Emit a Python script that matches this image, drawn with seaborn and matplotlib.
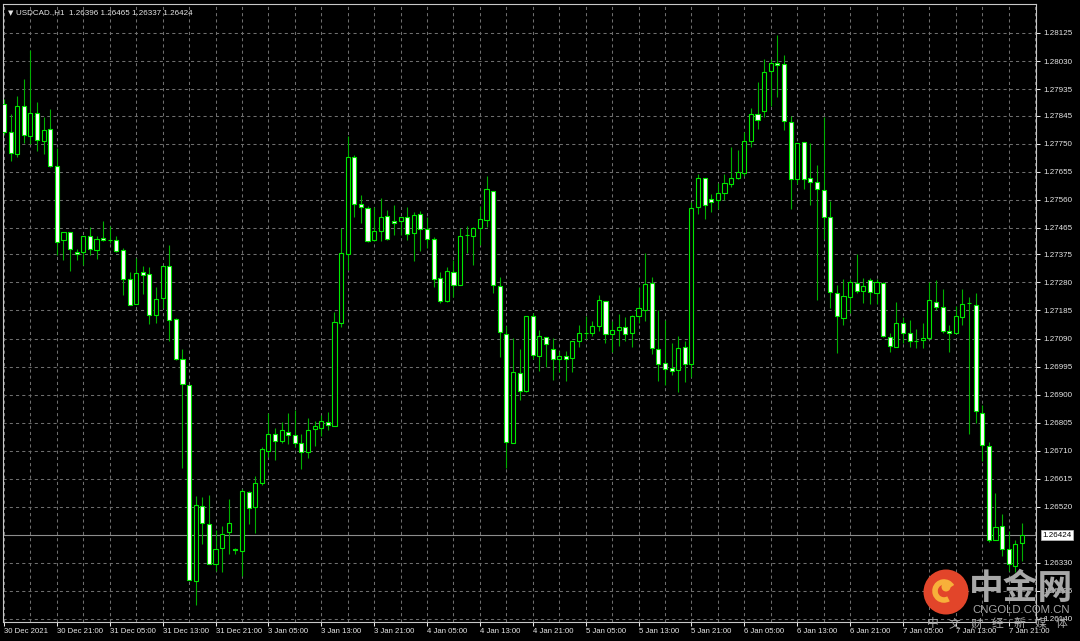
import matplotlib
matplotlib.use('Agg')
import matplotlib.pyplot as plt
import matplotlib.transforms as mtransforms
from matplotlib.patches import Circle, Arc
import numpy as np
import pandas as pd
import seaborn as sns

# --- hourly USDCAD candles, 30 Dec 2021 13:00 .. 7 Jan 2022 23:00 ---
opens = [
    1.27884, 1.27788, 1.27715, 1.27877, 1.27775, 1.27855, 1.27758, 1.27801, 1.27673, 1.27424,
    1.27452, 1.27384, 1.27382, 1.27436, 1.27390, 1.27430, 1.27424, 1.27424, 1.27391, 1.27290,
    1.27206, 1.27314, 1.27307, 1.27171, 1.27228, 1.27335, 1.27156, 1.27022, 1.26931, 1.26268,
    1.26524, 1.26461, 1.26326, 1.26381, 1.26434, 1.26378, 1.26369, 1.26569, 1.26519, 1.26602,
    1.26710, 1.26766, 1.26744, 1.26773, 1.26762, 1.26737, 1.26707, 1.26783, 1.26788, 1.26808,
    1.26795, 1.27142, 1.27376, 1.27706, 1.27545, 1.27533, 1.27424, 1.27454, 1.27505, 1.27489,
    1.27489, 1.27503, 1.27446, 1.27511, 1.27460, 1.27426, 1.27294, 1.27217, 1.27314, 1.27271,
    1.27441, 1.27439, 1.27464, 1.27492, 1.27590, 1.27268, 1.27106, 1.26735, 1.26972, 1.26911,
    1.27168, 1.27030, 1.27095, 1.27055, 1.27020, 1.27030, 1.27024, 1.27081, 1.27109, 1.27108,
    1.27134, 1.27218, 1.27106, 1.27118, 1.27129, 1.27108, 1.27166, 1.27187, 1.27279, 1.27055,
    1.27006, 1.26989, 1.26982, 1.27061, 1.27004, 1.27535, 1.27634, 1.27563, 1.27560, 1.27584,
    1.27614, 1.27635, 1.27652, 1.27760, 1.27850, 1.27862, 1.27996, 1.28024, 1.28020, 1.27823,
    1.27631, 1.27757, 1.27635, 1.27620, 1.27592, 1.27503, 1.27244, 1.27158, 1.27231, 1.27277,
    1.27252, 1.27288, 1.27244, 1.27277, 1.27096, 1.27062, 1.27143, 1.27110, 1.27083, 1.27086,
    1.27092, 1.27215, 1.27198, 1.27114, 1.27110, 1.27162, 1.27209, 1.27205, 1.26839, 1.26725,
    1.26408, 1.26456, 1.26378, 1.26320, 1.26396,
]
highs = [
    1.27901, 1.27852, 1.27912, 1.27969, 1.28069, 1.27892, 1.27842, 1.27868, 1.27736, 1.27451,
    1.27452, 1.27393, 1.27437, 1.27467, 1.27438, 1.27487, 1.27471, 1.27437, 1.27397, 1.27316,
    1.27363, 1.27337, 1.27333, 1.27266, 1.27335, 1.27407, 1.27161, 1.27054, 1.26931, 1.26555,
    1.26553, 1.26560, 1.26443, 1.26456, 1.26547, 1.26381, 1.26579, 1.26573, 1.26624, 1.26724,
    1.26839, 1.26786, 1.26806, 1.26839, 1.26848, 1.26766, 1.26822, 1.26811, 1.26831, 1.26840,
    1.27179, 1.27463, 1.27776, 1.27712, 1.27576, 1.27539, 1.27537, 1.27565, 1.27526, 1.27542,
    1.27501, 1.27535, 1.27520, 1.27522, 1.27503, 1.27435, 1.27317, 1.27331, 1.27356, 1.27466,
    1.27471, 1.27469, 1.27539, 1.27641, 1.27590, 1.27297, 1.27134, 1.27091, 1.27053, 1.27166,
    1.27177, 1.27120, 1.27095, 1.27092, 1.27049, 1.27049, 1.27081, 1.27136, 1.27166, 1.27151,
    1.27239, 1.27218, 1.27151, 1.27174, 1.27162, 1.27171, 1.27266, 1.27380, 1.27300, 1.27187,
    1.27154, 1.27075, 1.27098, 1.27083, 1.27552, 1.27646, 1.27634, 1.27578, 1.27617, 1.27646,
    1.27740, 1.27730, 1.27790, 1.27870, 1.27960, 1.28037, 1.28037, 1.28117, 1.28050, 1.27845,
    1.27754, 1.27757, 1.27752, 1.27677, 1.27842, 1.27557, 1.27272, 1.27292, 1.27292, 1.27376,
    1.27296, 1.27296, 1.27290, 1.27280, 1.27109, 1.27214, 1.27163, 1.27152, 1.27122, 1.27144,
    1.27281, 1.27288, 1.27259, 1.27136, 1.27200, 1.27257, 1.27231, 1.27244, 1.26864, 1.26741,
    1.26566, 1.26497, 1.26439, 1.26407, 1.26465,
]
lows = [
    1.27778, 1.27691, 1.27706, 1.27754, 1.27749, 1.27726, 1.27715, 1.27670, 1.27373, 1.27355,
    1.27318, 1.27356, 1.27340, 1.27373, 1.27360, 1.27420, 1.27415, 1.27382, 1.27236, 1.27202,
    1.27206, 1.27242, 1.27139, 1.27143, 1.27193, 1.27082, 1.27018, 1.26650, 1.26272, 1.26186,
    1.26393, 1.26326, 1.26303, 1.26300, 1.26359, 1.26359, 1.26287, 1.26462, 1.26430, 1.26594,
    1.26690, 1.26679, 1.26735, 1.26733, 1.26724, 1.26648, 1.26684, 1.26726, 1.26760, 1.26780,
    1.26795, 1.27130, 1.27322, 1.27503, 1.27483, 1.27418, 1.27420, 1.27422, 1.27424, 1.27441,
    1.27441, 1.27424, 1.27354, 1.27388, 1.27396, 1.27266, 1.27212, 1.27215, 1.27231, 1.27271,
    1.27379, 1.27339, 1.27407, 1.27469, 1.27243, 1.27026, 1.26653, 1.26735, 1.26882, 1.26908,
    1.27021, 1.26979, 1.26993, 1.26948, 1.26976, 1.26945, 1.26976, 1.27061, 1.27089, 1.27100,
    1.27117, 1.27074, 1.27044, 1.27066, 1.27083, 1.27061, 1.27142, 1.27151, 1.27036, 1.26945,
    1.26931, 1.26968, 1.26908, 1.26942, 1.26959, 1.27513, 1.27496, 1.27518, 1.27530, 1.27560,
    1.27605, 1.27631, 1.27640, 1.27740, 1.27800, 1.27840, 1.27879, 1.27907, 1.27797, 1.27528,
    1.27612, 1.27596, 1.27542, 1.27220, 1.27428, 1.27195, 1.27042, 1.27136, 1.27175, 1.27244,
    1.27210, 1.27207, 1.27207, 1.27096, 1.27044, 1.27062, 1.27074, 1.27062, 1.27059, 1.27059,
    1.27092, 1.27185, 1.27108, 1.27044, 1.27110, 1.27136, 1.26767, 1.26803, 1.26676, 1.26401,
    1.26408, 1.26355, 1.26303, 1.26300, 1.26337,
]
closes = [
    1.27791, 1.27718, 1.27877, 1.27778, 1.27855, 1.27761, 1.27798, 1.27674, 1.27417, 1.27451,
    1.27394, 1.27376, 1.27437, 1.27394, 1.27428, 1.27424, 1.27423, 1.27388, 1.27290, 1.27202,
    1.27311, 1.27305, 1.27171, 1.27223, 1.27335, 1.27153, 1.27022, 1.26935, 1.26272, 1.26527,
    1.26465, 1.26326, 1.26378, 1.26427, 1.26466, 1.26374, 1.26575, 1.26517, 1.26601, 1.26715,
    1.26766, 1.26744, 1.26780, 1.26763, 1.26735, 1.26704, 1.26780, 1.26794, 1.26812, 1.26797,
    1.27145, 1.27379, 1.27706, 1.27545, 1.27535, 1.27422, 1.27455, 1.27503, 1.27427, 1.27483,
    1.27501, 1.27444, 1.27509, 1.27461, 1.27426, 1.27291, 1.27217, 1.27320, 1.27271, 1.27439,
    1.27441, 1.27466, 1.27494, 1.27595, 1.27271, 1.27111, 1.26739, 1.26975, 1.26911, 1.27166,
    1.27034, 1.27098, 1.27070, 1.27020, 1.27031, 1.27020, 1.27081, 1.27109, 1.27109, 1.27132,
    1.27221, 1.27105, 1.27120, 1.27129, 1.27106, 1.27168, 1.27194, 1.27275, 1.27058, 1.27004,
    1.26986, 1.26979, 1.27058, 1.27004, 1.27533, 1.27634, 1.27541, 1.27554, 1.27583, 1.27617,
    1.27635, 1.27654, 1.27760, 1.27850, 1.27830, 1.27992, 1.28024, 1.28017, 1.27827, 1.27632,
    1.27754, 1.27631, 1.27620, 1.27596, 1.27503, 1.27246, 1.27165, 1.27233, 1.27281, 1.27252,
    1.27268, 1.27246, 1.27281, 1.27100, 1.27065, 1.27143, 1.27110, 1.27082, 1.27082, 1.27093,
    1.27220, 1.27196, 1.27117, 1.27109, 1.27165, 1.27207, 1.27209, 1.26845, 1.26731, 1.26406,
    1.26453, 1.26378, 1.26326, 1.26394, 1.26424,
]

# x labels every 8 bars
time_labels = [
    "30 Dec 2021", "30 Dec 21:00", "31 Dec 05:00", "31 Dec 13:00", "31 Dec 21:00",
    "3 Jan 05:00", "3 Jan 13:00", "3 Jan 21:00", "4 Jan 05:00", "4 Jan 13:00",
    "4 Jan 21:00", "5 Jan 05:00", "5 Jan 13:00", "5 Jan 21:00", "6 Jan 05:00",
    "6 Jan 13:00", "6 Jan 21:00", "7 Jan 05:00", "7 Jan 13:00", "7 Jan 21:00",
]
price_ticks = [
    1.28125, 1.28030, 1.27935, 1.27845, 1.27750, 1.27655, 1.27560, 1.27465, 1.27375,
    1.27280, 1.27185, 1.27090, 1.26995, 1.26900, 1.26805, 1.26710, 1.26615, 1.26520,
    1.26330, 1.26235, 1.26140,
]
last_price = 1.26424
symbol = "USDCAD.,H1"
slogan_chars = ["中", "文", "财", "经", "新", "媒", "体"]

df = pd.DataFrame({"open": opens, "high": highs, "low": lows, "close": closes})
df["bar"] = np.arange(len(df))
df["bear"] = df["close"] < df["open"]

# --- style ---
sns.set_theme(style="dark", rc={
    "figure.facecolor": "black",
    "axes.facecolor": "black",
    "axes.edgecolor": "#c8c8c8",
    "grid.color": "#6e6e6e",
})
plt.rcParams['font.family'] = ['Liberation Sans', 'DejaVu Sans', 'Noto Sans CJK SC']

WICK = "#00b000"
EDGE = "#00e800"
TXT = "#e6e6e6"

fig = plt.figure(figsize=(10.8, 6.41), dpi=100)
ax = fig.add_axes([3 / 1080, 19 / 641, 1033 / 1080, 618 / 641])

# wicks then bodies
ax.vlines(df["bar"], df["low"], df["high"], color=WICK, lw=0.8, zorder=2)
body_lo = df[["open", "close"]].min(axis=1)
body_h = (df["close"] - df["open"]).abs().clip(lower=0.000004)
ax.bar(df["bar"], body_h, bottom=body_lo, width=0.62,
       color=np.where(df["bear"], "white", "black"),
       edgecolor=EDGE, linewidth=0.8, zorder=3)

# current price line
ax.axhline(last_price, color="#8c8c8c", lw=0.8, zorder=1.5)

ax.set_xlim(-0.15, 156.13)
ax.set_ylim(1.261298, 1.282232)

ax.set_xticks(np.arange(0, len(df), 8))
ax.set_xticklabels(time_labels, ha="left")
ax.set_xticks(np.arange(4, 157, 8), minor=True)
ax.yaxis.tick_right()
ax.set_yticks(price_ticks)
ax.set_yticklabels([f"{p:.5f}" for p in price_ticks])

ax.grid(True, which="both", color="#6e6e6e", lw=0.75, linestyle=(0, (3, 3)))
ax.set_axisbelow(True)
ax.tick_params(axis="y", which="major", direction="out", length=3, width=0.75,
               colors=TXT, labelsize=5.8, pad=2, right=True, left=False)
ax.tick_params(axis="x", which="major", direction="out", length=3, width=0.75,
               colors=TXT, labelsize=5.6, pad=1.5, bottom=True)
ax.tick_params(axis="x", which="minor", length=0)
for s in ax.spines.values():
    s.set_color("#c8c8c8")
    s.set_linewidth(0.8)

# boxed current price on the axis
trans = mtransforms.blended_transform_factory(ax.transAxes, ax.transData)
ax.text(1.0065, last_price, f"{last_price:.5f}", transform=trans, ha="left", va="center",
        fontsize=5.8, color="black", clip_on=False, zorder=6,
        bbox=dict(boxstyle="square,pad=0.18", fc="white", ec="#bdbdbd", lw=0.5))

# header
ax.text(0.0045, 0.99, "\u25bc", transform=ax.transAxes, ha="left", va="top",
        fontsize=5, color=TXT, family=["DejaVu Sans"])
ax.text(0.0125, 0.992, f"{symbol}  {opens[-1]:.5f} {highs[-1]:.5f} {lows[-1]:.5f} {closes[-1]:.5f}",
        transform=ax.transAxes, ha="left", va="top", fontsize=5.8, color=TXT)

# watermark overlay in pixel space
ov = fig.add_axes([0, 0, 1, 1], zorder=10)
ov.set_xlim(0, 1080)
ov.set_ylim(641, 0)
ov.axis("off")
ov.patch.set_alpha(0)
ov.add_patch(Circle((946, 592), 22.5, fc="#e2452a", ec="none"))
ov.add_patch(Arc((944, 591), 18, 18, theta1=60, theta2=330, color="#f7b03a", lw=4))
ov.add_patch(Circle((946, 587), 4.5, fc="#f7b03a", ec="none"))
gray = "#a8a8a8"
ov.text(1021, 588, "中金网", ha="center", va="center", fontsize=25, fontweight="bold",
        color=gray, family=["Noto Sans CJK SC"])
ov.text(1021, 610, "CNGOLD.COM.CN", ha="center", va="center", fontsize=8.2, color=gray)
for k, ch in enumerate(slogan_chars):
    ov.text(933 + k * 21.5, 624, ch, ha="center", va="center", fontsize=8.5,
            color=gray, family=["Noto Sans CJK SC"])

fig.savefig("out.png", dpi=100, facecolor="black")
